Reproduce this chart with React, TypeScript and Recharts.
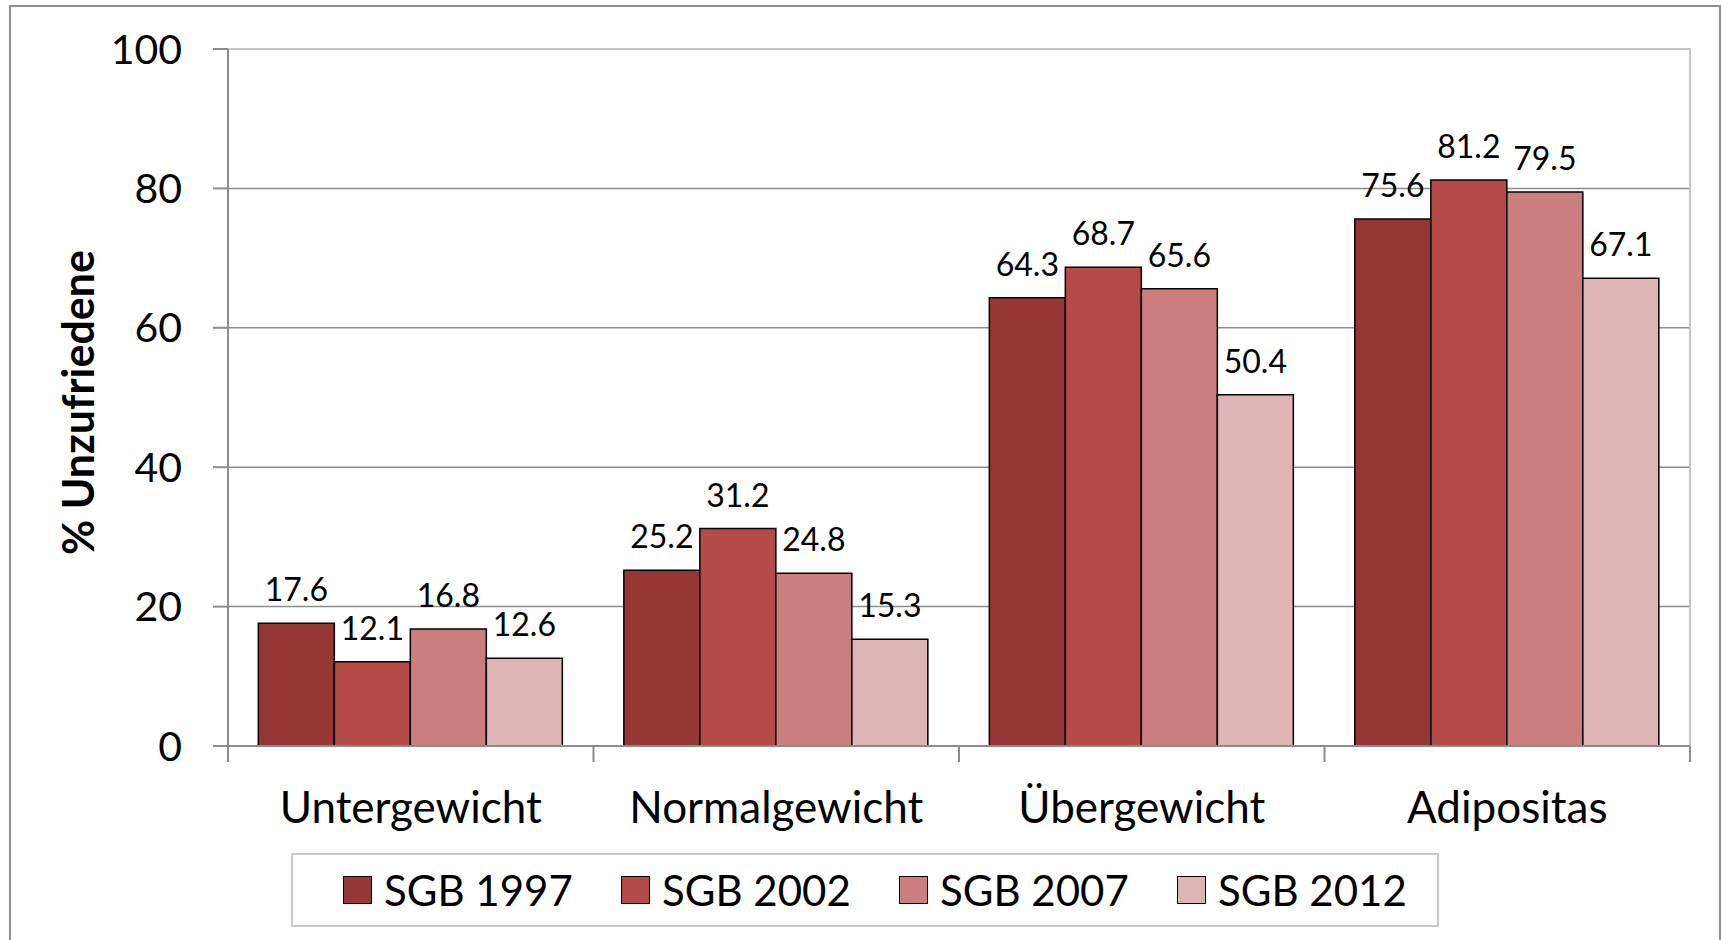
import { BarChart, Bar, XAxis, YAxis, CartesianGrid, Legend, LabelList, Label, ReferenceArea } from 'recharts'

const categories = ['Untergewicht', 'Normalgewicht', 'Übergewicht', 'Adipositas']
const sgb1997 = [17.6, 25.2, 64.3, 75.6]
const sgb2002 = [12.1, 31.2, 68.7, 81.2]
const sgb2007 = [16.8, 24.8, 65.6, 79.5]
const sgb2012 = [12.6, 15.3, 50.4, 67.1]
const yTicks = [0, 20, 40, 60, 80, 100]

const series = [
  { key: 'SGB 1997', values: sgb1997, color: '#953735' },
  { key: 'SGB 2002', values: sgb2002, color: '#B44B49' },
  { key: 'SGB 2007', values: sgb2007, color: '#CA7E7D' },
  { key: 'SGB 2012', values: sgb2012, color: '#DFB4B4' },
]

const data = categories.map((name, i) => {
  const row: Record<string, string | number> = { name }
  series.forEach((s) => {
    row[s.key] = s.values[i]
  })
  return row
})

const FONT = 'Lato, "Open Sans", sans-serif'
const AXIS_GRAY = '#8c8c8c'

// Excel-artige Kategorie-Ticks: Striche an den Grenzen, nicht in der Mitte
function CategoryTick(props: any) {
  const { x, y, payload, index, visibleTicksCount } = props
  const half = payload?.offset ?? 1462 / categories.length / 2
  const last = index === visibleTicksCount - 1
  return (
    <g>
      <line x1={x - half} x2={x - half} y1={y} y2={y + 16} stroke={AXIS_GRAY} strokeWidth={2} />
      {last && <line x1={x + half} x2={x + half} y1={y} y2={y + 16} stroke={AXIS_GRAY} strokeWidth={2} />}
      <text x={x} y={y + 77} textAnchor="middle" fontFamily={FONT} fontSize={44} fill="#000">
        {payload.value}
      </text>
    </g>
  )
}

function AxisTitle(props: any) {
  const vb = props.viewBox || {}
  const cx = vb.x + 77
  const cy = vb.y + vb.height / 2 + 5
  return (
    <text
      x={cx}
      y={cy}
      transform={`rotate(-90, ${cx}, ${cy})`}
      textAnchor="middle"
      dominantBaseline="central"
      fontFamily={FONT}
      fontWeight="bold"
      fontSize={43}
      fill="#000"
    >
      % Unzufriedene
    </text>
  )
}

function LegendBox() {
  return (
    <div style={{ display: 'flex', alignItems: 'center', height: '100%', paddingLeft: 50, boxSizing: 'border-box' }}>
      {series.map((s) => (
        <div key={s.key} style={{ display: 'flex', alignItems: 'center', width: 278, flexShrink: 0 }}>
          <span
            style={{ display: 'inline-block', width: 27, height: 26, background: s.color, border: '1.5px solid #000', marginRight: 12 }}
          />
          <span style={{ fontFamily: FONT, fontSize: 42, color: '#000', lineHeight: 1 }}>{s.key}</span>
        </div>
      ))}
    </div>
  )
}

export default function App() {
  return (
    <div style={{ position: 'absolute', left: 0, top: 0, width: 1721, height: 940, background: '#fff', overflow: 'hidden' }}>
      <div
        style={{
          position: 'absolute',
          left: 9,
          top: 5,
          width: 1708,
          height: 980,
          border: '2px solid #8e8e8e',
          pointerEvents: 'none',
        }}
      />
      <BarChart
        width={1721}
        height={940}
        data={data}
        margin={{ top: 49, right: 31, left: 0, bottom: 0 }}
        barCategoryGap="8.3%"
        barGap={0}
      >
        <ReferenceArea y1={0} y2={100} fill="none" stroke="#c4c4c4" strokeWidth={2} />
        <CartesianGrid vertical={false} horizontalValues={[20, 40, 60, 80]} stroke={AXIS_GRAY} strokeWidth={1.5} />
        <XAxis
          dataKey="name"
          height={120}
          axisLine={{ stroke: AXIS_GRAY, strokeWidth: 2 }}
          tickLine={false}
          tickSize={0}
          tickMargin={0}
          interval={0}
          tick={<CategoryTick />}
        />
        <YAxis
          width={228}
          domain={[0, 100]}
          ticks={yTicks}
          interval={0}
          axisLine={{ stroke: AXIS_GRAY, strokeWidth: 2 }}
          tickLine={{ stroke: AXIS_GRAY, strokeWidth: 2 }}
          tickSize={15}
          tickMargin={31}
          tick={{ fontFamily: FONT, fontSize: 41, fill: '#000' }}
        >
          <Label content={<AxisTitle />} />
        </YAxis>
        <Legend
          content={<LegendBox />}
          wrapperStyle={{
            left: 291,
            top: 853,
            bottom: 'auto',
            width: 1148,
            height: 74,
            border: '2px solid #c8c8c8',
            boxSizing: 'border-box',
          }}
        />
        {series.map((s) => (
          <Bar key={s.key} dataKey={s.key} fill={s.color} stroke="#000" strokeWidth={1.5} isAnimationActive={false}>
            <LabelList
              dataKey={s.key}
              position="top"
              offset={22}
              formatter={(v: any) => Number(v).toFixed(1)}
              style={{ fontFamily: FONT, fontSize: 32, fill: '#000' }}
            />
          </Bar>
        ))}
      </BarChart>
    </div>
  )
}
